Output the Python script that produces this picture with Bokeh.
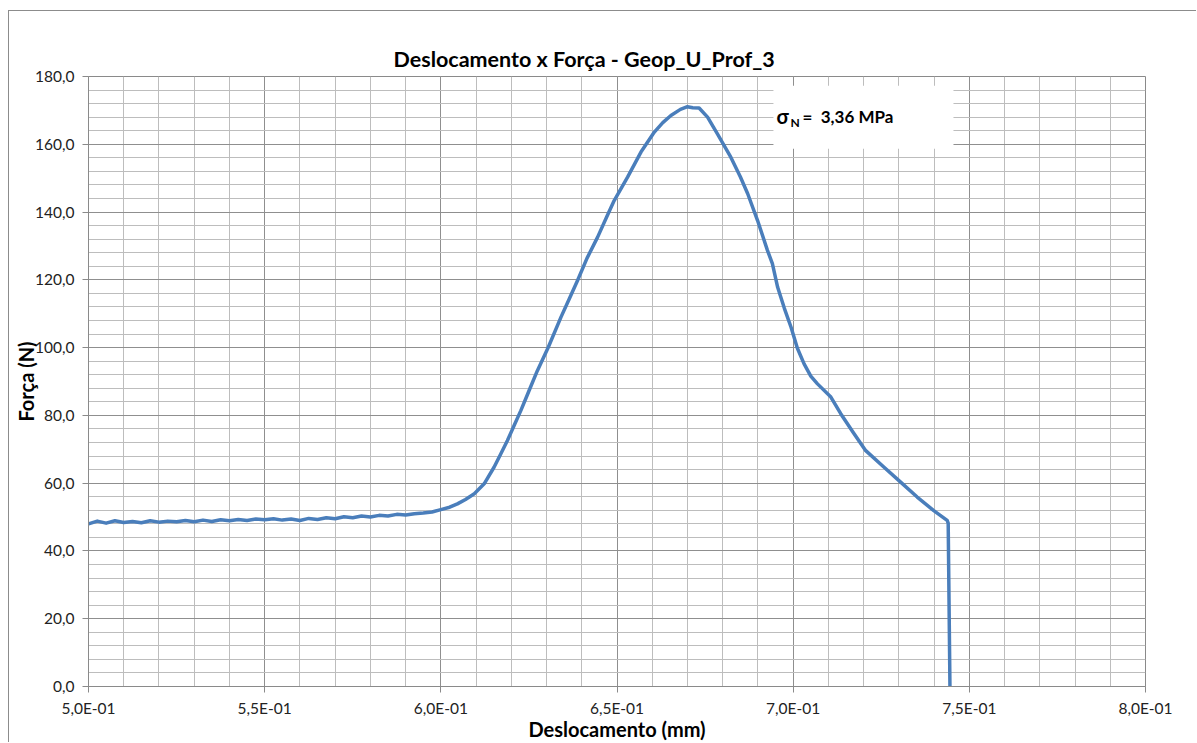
from bokeh.plotting import figure
from bokeh.models import (FixedTicker, CustomJSTickFormatter, Range1d, BoxAnnotation, Label, Title)
from bokeh.embed import file_html
from bokeh.resources import INLINE

# ---- data ----
desloc_mm = [
    0.5000, 0.5025, 0.5050, 0.5075, 0.5100, 0.5125, 0.5150, 0.5175, 0.5200, 0.5225,
    0.5250, 0.5275, 0.5300, 0.5325, 0.5350, 0.5375, 0.5400, 0.5425, 0.5450, 0.5475,
    0.5500, 0.5525, 0.5550, 0.5575, 0.5600, 0.5625, 0.5650, 0.5675, 0.5700, 0.5725,
    0.5750, 0.5775, 0.5800, 0.5825, 0.5850, 0.5875, 0.5900, 0.5925, 0.5950, 0.5975,
    0.6000, 0.6025, 0.6047, 0.6070, 0.6095, 0.6123, 0.6151, 0.6170, 0.6189, 0.6208,
    0.6227, 0.6250, 0.6274, 0.6305, 0.6341, 0.6365, 0.6388, 0.6415, 0.6445, 0.6470,
    0.6492, 0.6530, 0.6568, 0.6606, 0.6630, 0.6653, 0.6680, 0.6700, 0.6715, 0.6733,
    0.6757, 0.6785, 0.6823, 0.6850, 0.6871, 0.6899, 0.6927, 0.6941, 0.6956, 0.6975,
    0.6994, 0.7012, 0.7031, 0.7050, 0.7069, 0.7107, 0.7135, 0.7170, 0.7206, 0.7258,
    0.7305, 0.7352, 0.7399, 0.7437, 0.7440, 0.7445,
]
forca_N = [
    48.0, 48.8, 48.2, 48.9, 48.4, 48.7, 48.3, 48.9, 48.5, 48.8,
    48.6, 49.0, 48.6, 49.1, 48.7, 49.2, 48.9, 49.3, 49.0, 49.4,
    49.2, 49.5, 49.1, 49.4, 49.0, 49.6, 49.3, 49.8, 49.5, 50.1,
    49.8, 50.3, 50.0, 50.5, 50.3, 50.8, 50.6, 51.0, 51.2, 51.5,
    52.2, 52.9, 53.9, 55.2, 56.9, 59.8, 64.7, 68.6, 72.6, 77.0,
    81.4, 87.2, 93.2, 100.1, 109.0, 114.5, 119.8, 126.4, 132.6, 138.4,
    143.4, 150.3, 157.7, 163.6, 166.4, 168.5, 170.3, 171.1, 170.8, 170.7,
    168.0, 163.1, 156.2, 150.4, 145.4, 137.5, 128.7, 124.8, 117.8, 111.6,
    106.0, 99.8, 95.2, 91.6, 89.3, 85.4, 80.5, 75.0, 69.6, 64.7,
    60.3, 55.9, 51.9, 49.0, 48.2, 0.0,
]

x_ticks = [0.50, 0.55, 0.60, 0.65, 0.70, 0.75, 0.80]
x_minor_ticks = [round(0.5 + 0.01 * i, 3) for i in range(31)]
y_ticks = [0, 20, 40, 60, 80, 100, 120, 140, 160, 180]
y_minor_ticks = [4 * i for i in range(46)]

title_text = "Deslocamento x Força - Geop_U_Prof_3"
x_label = "Deslocamento (mm)"
y_label = "Força (N)"
sigma_value = "=\u00a0\u00a03,36 MPa"

FONT = "Lato"
BLUE = "#4A7EBB"

p = figure(width=1188, height=732, output_backend="svg", toolbar_location=None,
           x_range=Range1d(0.5, 0.8), y_range=Range1d(0, 180))
p.styles = {"margin-left": "8px", "margin-top": "10px",
            "border-left": "1px solid #8c8c8c", "border-top": "1px solid #8c8c8c"}

p.min_border_left = 79
p.min_border_right = 52
p.min_border_top = 65
p.min_border_bottom = 57
p.background_fill_color = "white"
p.border_fill_color = "white"
p.outline_line_color = "#8a8a8a"

# spacer panel next to the frame, then the real title above it
p.title.text = "\u00a0"
p.title.text_font_size = "12px"
p.title.standoff = 10
p.add_layout(Title(text=title_text, align="left", text_font=FONT, text_font_size="21.5px",
                   text_font_style="bold", text_color="black", offset=305, standoff=10),
             "above")

p.xaxis.ticker = FixedTicker(ticks=x_ticks, minor_ticks=x_minor_ticks)
p.yaxis.ticker = FixedTicker(ticks=y_ticks, minor_ticks=y_minor_ticks)
p.xaxis.formatter = CustomJSTickFormatter(code="""
    const s = tick.toExponential(1).replace('.', ',');
    const parts = s.split('e');
    let e = parseInt(parts[1]);
    const sign = e < 0 ? '-' : '+';
    e = Math.abs(e);
    return parts[0] + 'E' + sign + (e < 10 ? '0' + e : '' + e);
""")
p.yaxis.formatter = CustomJSTickFormatter(code="return tick.toFixed(1).replace('.', ',');")

for ax in (p.xaxis[0], p.yaxis[0]):
    ax.axis_line_color = "#8a8a8a"
    ax.major_tick_line_color = "#8a8a8a"
    ax.major_tick_in = 0
    ax.major_tick_out = 6
    ax.minor_tick_line_color = None
    ax.major_label_text_font = FONT
    ax.major_label_text_font_size = "15.5px"
    ax.major_label_text_color = "#222222"
    ax.axis_label_text_font = FONT
    ax.axis_label_text_font_size = "20px"
    ax.axis_label_text_font_style = "bold"
    ax.axis_label_text_color = "black"

p.xaxis.axis_label = x_label
p.yaxis.axis_label = y_label
p.xaxis.major_label_standoff = 6
p.xaxis.axis_label_standoff = -3
p.yaxis.major_label_standoff = 8
p.yaxis.axis_label_standoff = -6

for g in (p.xgrid[0], p.ygrid[0]):
    g.grid_line_color = "#8f8f8f"
    g.grid_line_width = 1
    g.minor_grid_line_color = "#bdbdbd"
    g.minor_grid_line_width = 1

p.line(desloc_mm, forca_N, line_color=BLUE, line_width=3.5, line_join="round")

# annotation box
box = BoxAnnotation(left=0.6944, right=0.7455, bottom=158.7, top=177.3,
                    fill_color="white", fill_alpha=1.0, line_color=None)
p.add_layout(box)
p.add_layout(Label(x=0.6953, y=168.2, text="σ", text_font=FONT, text_font_size="20px",
                   text_font_style="bold", text_baseline="middle", text_color="black"))
p.add_layout(Label(x=0.6953, y=168.2, x_offset=14, y_offset=-6, text="N", text_font=FONT,
                   text_font_size="12px", text_font_style="bold", text_baseline="middle",
                   text_color="black"))
p.add_layout(Label(x=0.6953, y=168.2, x_offset=26, text=sigma_value, text_font=FONT,
                   text_font_size="17px", text_font_style="bold", text_baseline="middle",
                   text_color="black"))

open("out.html", "w").write(file_html(p, INLINE))
